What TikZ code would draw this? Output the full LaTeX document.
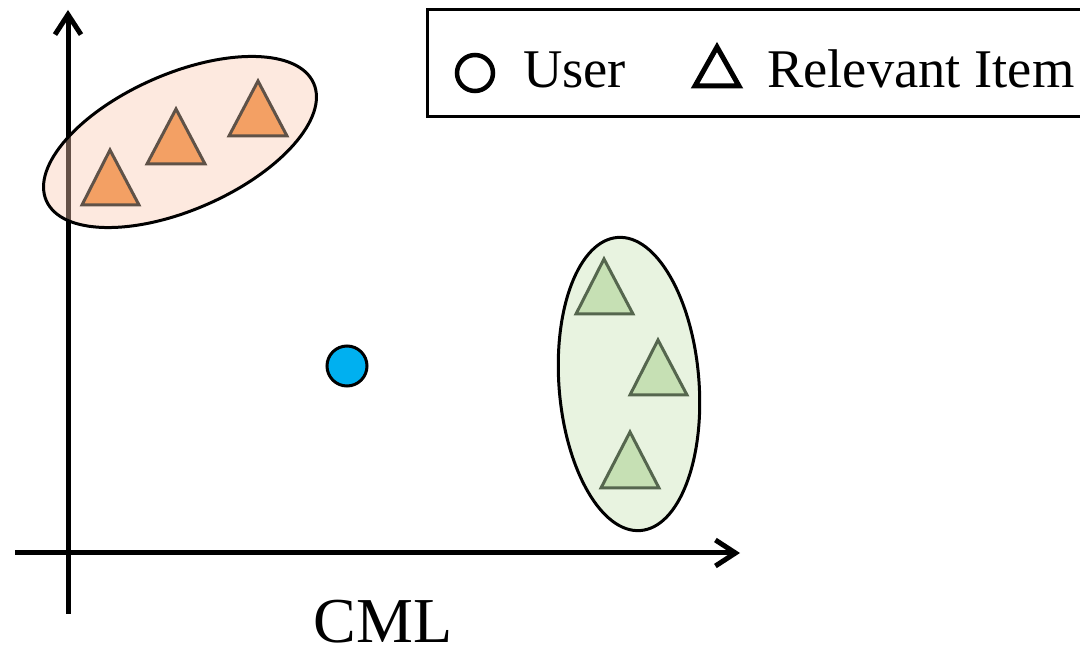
\documentclass[tikz,border=0pt]{standalone}
\usepackage{fontspec}
\setmainfont{Liberation Serif}
\usetikzlibrary{arrows.meta}
\definecolor{orfill}{RGB}{243,160,100}
\definecolor{orline}{RGB}{95,82,72}
\definecolor{orell}{RGB}{250,200,175}
\definecolor{grfill}{RGB}{198,224,180}
\definecolor{grline}{RGB}{85,102,78}
\definecolor{grell}{RGB}{232,243,224}
\definecolor{userblue}{RGB}{0,176,240}
\tikzset{
  axisline/.style={line width=5pt, -{Straight Barb[length=20pt,width=26pt,line width=5pt]}},
  clusterell/.style={draw=black, line width=3pt},
  orangetri/.style={fill=orfill, draw=orline, line width=3pt, line join=miter},
  greentri/.style={fill=grfill, draw=grline, line width=3pt, line join=miter},
  legendtext/.style={font=\fontsize{54.5pt}{60pt}\selectfont, inner sep=0pt, anchor=base west}
}
\begin{document}
\begin{tikzpicture}[x=1pt,y=1pt]
\clip (0,0) rectangle (1080,656);
\fill[white] (0,0) rectangle (1080,656);
% axes
\coordinate (ybot) at (68,42);
\coordinate (ytop) at (68,646);
\coordinate (xleft) at (15,103);
\coordinate (xright) at (740,103);
\draw[axisline] (ybot) -- (ytop);
\draw[axisline] (xleft) -- (xright);
% clusters
\fill[orell, fill opacity=0.4] (180,514) ellipse [x radius=146, y radius=68, rotate=23.7];
\draw[clusterell] (180,514) ellipse [x radius=146, y radius=68, rotate=23.7];
\draw[clusterell, fill=grell] (629,272) ellipse [x radius=70, y radius=147, rotate=4.5];
% orange items
\draw[orangetri] (82,451) -- (139,451) -- (110,506) -- cycle;
\draw[orangetri] (147,492) -- (205,492) -- (176,547) -- cycle;
\draw[orangetri] (229,520) -- (287,520) -- (258,575) -- cycle;
% green items
\draw[greentri] (576,342) -- (633,342) -- (604,397) -- cycle;
\draw[greentri] (630,261) -- (687,261) -- (658,316) -- cycle;
\draw[greentri] (601,168) -- (659,168) -- (630,224) -- cycle;
% user
\node[circle, fill=userblue, draw=black, line width=3pt, minimum size=40pt, inner sep=0pt] (user) at (347,290) {};
% legend
\draw[line width=3pt] (427,646) rectangle (1095,539);
\node[circle, draw=black, line width=4.5pt, minimum size=36pt, inner sep=0pt] (legcirc) at (475,583) {};
\node[legendtext] (leguser) at (523,568) {User};
\draw[line width=5pt, line join=miter] (695,570) -- (739,570) -- (717,609) -- cycle;
\node[legendtext] (legitem) at (767,568) {Relevant Item};
% label
\node[font=\fontsize{64pt}{70pt}\selectfont, inner sep=0pt, anchor=base] (cml) at (383,13) {CML};
\end{tikzpicture}
\end{document}
